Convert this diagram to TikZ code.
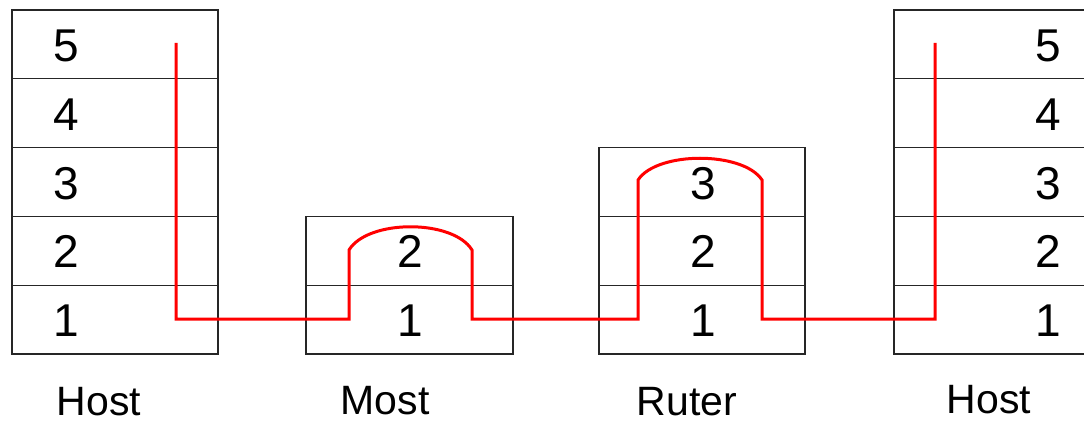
\documentclass[tikz,border=0pt]{standalone}
\usepackage{fontspec}
\setmainfont{Liberation Sans}
\tikzset{
  layer/.style={draw=black!85, line width=1.4pt, minimum width=206pt, minimum height=68.8pt, inner sep=0pt, outer sep=0pt},
  digit/.style={font=\fontsize{46}{50}\selectfont, anchor=base, inner sep=0pt},
  devlabel/.style={font=\fontsize{41}{45}\selectfont, anchor=base, inner sep=0pt},
  signal/.style={red, line width=3pt, line join=miter}
}
\begin{document}
\begin{tikzpicture}[x=1pt,y=-1pt]
\useasboundingbox (0,0) rectangle (1084,425);
\clip (0,0) rectangle (1084,425);
% hosts
\foreach \k in {1,...,5}{
  \pgfmathsetmacro{\cy}{354-(\k-0.5)*68.8}
  \pgfmathsetmacro{\by}{354-\k*68.8+51.5}
  \node[layer] (hl\k) at (115,\cy) {};
  \node[digit] (dhl\k) at (66,\by) {\k};
  \node[layer] (hr\k) at (997,\cy) {};
  \node[digit] (dhr\k) at (1048,\by) {\k};
}
% bridge (Most)
\foreach \k in {1,2}{
  \pgfmathsetmacro{\cy}{354-(\k-0.5)*68.8}
  \pgfmathsetmacro{\by}{354-\k*68.8+51.5}
  \node[layer, minimum width=207pt] (m\k) at (409.5,\cy) {};
  \node[digit] (dm\k) at (410,\by) {\k};
}
% router (Ruter)
\foreach \k in {1,2,3}{
  \pgfmathsetmacro{\cy}{354-(\k-0.5)*68.8}
  \pgfmathsetmacro{\by}{354-\k*68.8+51.5}
  \node[layer] (r\k) at (702,\cy) {};
  \node[digit] (dr\k) at (703,\by) {\k};
}
% labels
\node[devlabel] (lhl) at (99,415) {Host};
\node[devlabel] (lm) at (385,414) {Most};
\node[devlabel] (lr) at (687,415) {Ruter};
\node[devlabel] (lhr) at (989,413) {Host};
% signal path
\coordinate (s) at (176,43);
\coordinate (a1) at (176,319);
\coordinate (mA) at (349,319);
\coordinate (mB) at (349,250);
\coordinate (mC) at (472,250);
\coordinate (mD) at (472,319);
\coordinate (rA) at (638,319);
\coordinate (rB) at (638,180);
\coordinate (rC) at (762,180);
\coordinate (rD) at (762,319);
\coordinate (eA) at (935,319);
\coordinate (e) at (935,43);
\draw[signal] (s) -- (a1) -- (mA) -- (mB)
  .. controls (368,219) and (453,219) .. (mC) -- (mD) -- (rA) -- (rB)
  .. controls (657,151) and (743,151) .. (rC) -- (rD) -- (eA) -- (e);
\end{tikzpicture}
\end{document}
